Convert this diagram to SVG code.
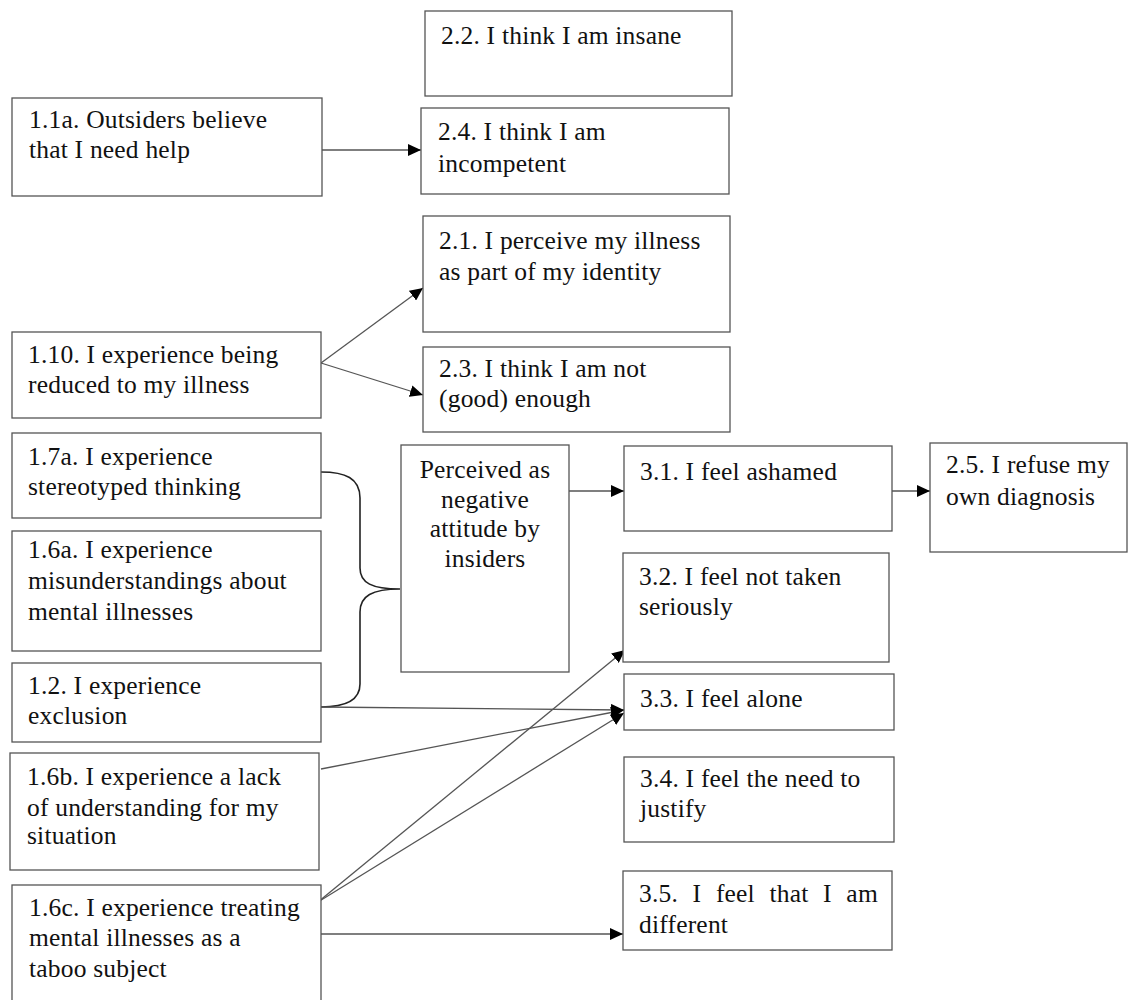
<svg xmlns="http://www.w3.org/2000/svg" width="1129" height="1000" viewBox="0 0 1129 1000">
<style>
.box{fill:#fff;stroke:#555;stroke-width:1.3}
.t{font-family:"Liberation Serif","Times New Roman",serif;font-size:25.5px;letter-spacing:0.2px;fill:#111}
.c{text-anchor:middle}
.ln{fill:none;stroke:#555;stroke-width:1.3}
.br{fill:none;stroke:#222;stroke-width:1.6}
</style>
<defs>
<marker id="ah" viewBox="0 0 13 12" refX="13" refY="6" markerWidth="13" markerHeight="12" markerUnits="userSpaceOnUse" orient="auto">
<path d="M0,0 L13,6 L0,12 Z" fill="#000"/>
</marker>
</defs>
<rect width="1129" height="1000" fill="#fff"/>
<g id="connectors">
<line class="ln" x1="322" y1="150" x2="421" y2="150" marker-end="url(#ah)"/>
<line class="ln" x1="321" y1="363" x2="423" y2="288" marker-end="url(#ah)"/>
<line class="ln" x1="321" y1="363" x2="423" y2="395" marker-end="url(#ah)"/>
<path class="br" d="M321,472 C345,472 360,478 360,498 L360,568 C360,583 372,589 400,589 C372,589 360,596 360,612 L360,684 C360,700 345,707 321,707"/>
<line class="ln" x1="569" y1="491" x2="624" y2="491" marker-end="url(#ah)"/>
<line class="ln" x1="892" y1="491" x2="930" y2="491" marker-end="url(#ah)"/>
<line class="ln" x1="321" y1="707" x2="624" y2="710" marker-end="url(#ah)"/>
<line class="ln" x1="321" y1="769" x2="624" y2="710" marker-end="url(#ah)"/>
<line class="ln" x1="318" y1="902" x2="624" y2="713" marker-end="url(#ah)"/>
<line class="ln" x1="318" y1="902" x2="625" y2="650" marker-end="url(#ah)"/>
<line class="ln" x1="321" y1="934" x2="623" y2="934" marker-end="url(#ah)"/>
</g>
<g id="n22"><rect class="box" x="425" y="11" width="307" height="85"/><text class="t" x="441" y="44">2.2. I think I am insane</text></g>
<g id="n11a"><rect class="box" x="12" y="98" width="310" height="98"/><text class="t" x="29" y="128">1.1a. Outsiders believe</text><text class="t" x="29" y="158">that I need help</text></g>
<g id="n24"><rect class="box" x="421" y="108" width="308" height="86"/><text class="t" x="438" y="140">2.4. I think I am</text><text class="t" x="438" y="172">incompetent</text></g>
<g id="n21"><rect class="box" x="423" y="216" width="307" height="116"/><text class="t" x="439" y="249">2.1. I perceive my illness</text><text class="t" x="439" y="280">as part of my identity</text></g>
<g id="n110"><rect class="box" x="12" y="332" width="309" height="86"/><text class="t" x="28" y="363">1.10. I experience being</text><text class="t" x="28" y="393">reduced to my illness</text></g>
<g id="n23"><rect class="box" x="423" y="347" width="307" height="85"/><text class="t" x="439" y="377">2.3. I think I am not</text><text class="t" x="439" y="407">(good) enough</text></g>
<g id="n17a"><rect class="box" x="12" y="433" width="309" height="85"/><text class="t" x="28" y="465">1.7a. I experience</text><text class="t" x="28" y="495">stereotyped thinking</text></g>
<g id="nPer"><rect class="box" x="401" y="445" width="168" height="227"/><text class="t c" x="485" y="478">Perceived as</text><text class="t c" x="485" y="508">negative</text><text class="t c" x="485" y="537">attitude by</text><text class="t c" x="485" y="567">insiders</text></g>
<g id="n31"><rect class="box" x="624" y="446" width="268" height="85"/><text class="t" x="640" y="480">3.1. I feel ashamed</text></g>
<g id="n25"><rect class="box" x="930" y="443" width="197" height="109"/><text class="t" x="946" y="473">2.5. I refuse my</text><text class="t" x="946" y="505">own diagnosis</text></g>
<g id="n16a"><rect class="box" x="12" y="531" width="309" height="120"/><text class="t" x="28" y="558">1.6a. I experience</text><text class="t" x="28" y="589">misunderstandings about</text><text class="t" x="28" y="620">mental illnesses</text></g>
<g id="n32"><rect class="box" x="623" y="553" width="266" height="109"/><text class="t" x="639" y="585">3.2. I feel not taken</text><text class="t" x="639" y="615">seriously</text></g>
<g id="n12"><rect class="box" x="12" y="663" width="309" height="79"/><text class="t" x="28" y="694">1.2. I experience</text><text class="t" x="28" y="724">exclusion</text></g>
<g id="n33"><rect class="box" x="624" y="674" width="270" height="56"/><text class="t" x="640" y="707">3.3. I feel alone</text></g>
<g id="n16b"><rect class="box" x="10" y="753" width="309" height="117"/><text class="t" x="27" y="785">1.6b. I experience a lack</text><text class="t" x="27" y="816">of understanding for my</text><text class="t" x="27" y="844">situation</text></g>
<g id="n34"><rect class="box" x="624" y="757" width="270" height="85"/><text class="t" x="640" y="787">3.4. I feel the need to</text><text class="t" x="640" y="817">justify</text></g>
<g id="n35"><rect class="box" x="623" y="871" width="269" height="79"/><text class="t" x="639" y="902" word-spacing="8">3.5. I feel that I am</text><text class="t" x="639" y="933">different</text></g>
<g id="n16c"><rect class="box" x="12" y="885" width="309" height="120"/><text class="t" x="29" y="916">1.6c. I experience treating</text><text class="t" x="29" y="946">mental illnesses as a</text><text class="t" x="29" y="977">taboo subject</text></g>
</svg>
